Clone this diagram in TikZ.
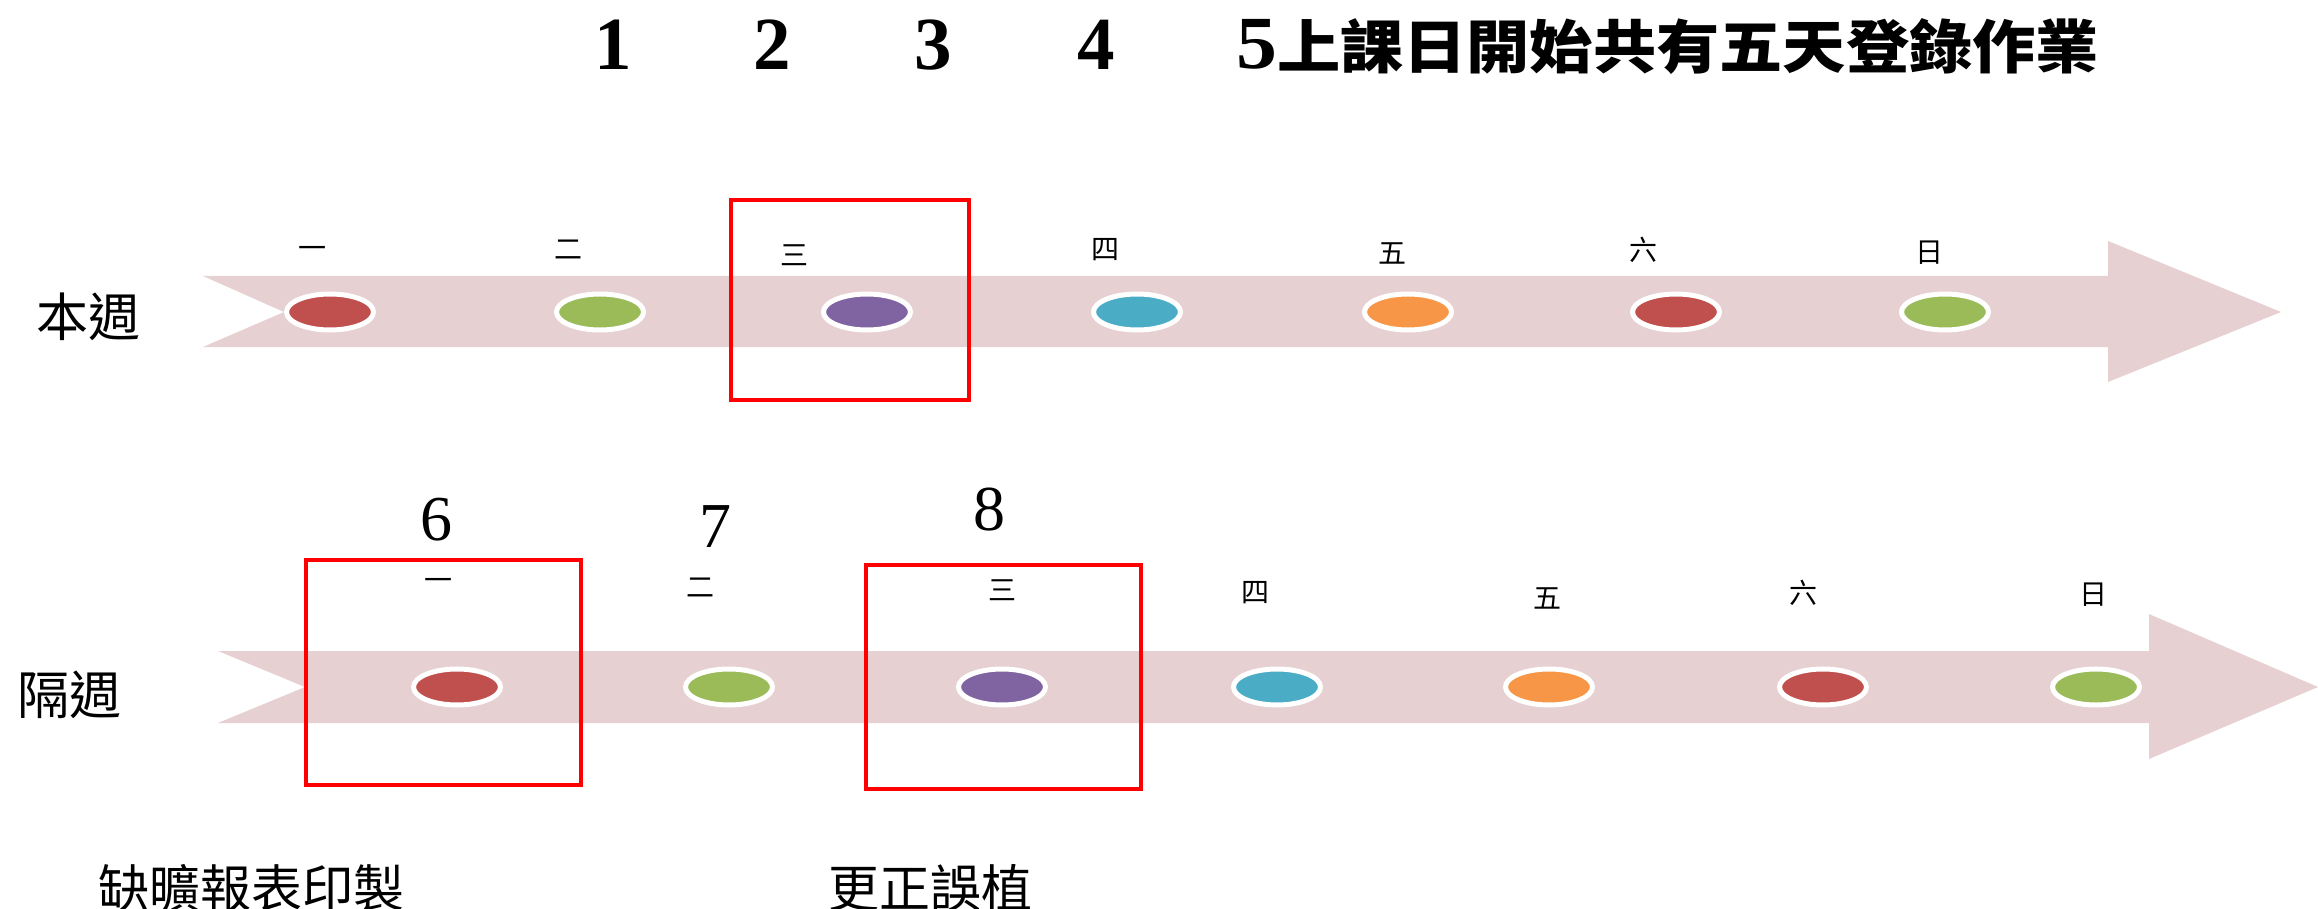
\documentclass[tikz,border=0pt]{standalone}
\usepackage{fontspec}
\setmainfont{Liberation Serif}
\newfontfamily\cjk{Noto Sans CJK TC}
\usetikzlibrary{shapes.geometric}
\definecolor{band}{RGB}{230,208,209}
\definecolor{dred}{RGB}{192,80,77}
\definecolor{dgreen}{RGB}{155,187,89}
\definecolor{dpurple}{RGB}{128,100,162}
\definecolor{dblue}{RGB}{75,172,198}
\definecolor{dorange}{RGB}{247,150,70}
\begin{document}
\begin{tikzpicture}[x=1pt,y=-1pt,
  dot/.style={ellipse,draw=white,line width=5pt,minimum width=87pt,minimum height=36pt,inner sep=0pt},
  day/.style={font=\cjk\fontsize{28}{30}\selectfont,inner sep=0pt},
  redbox/.style={draw=red,line width=4pt,inner sep=0pt},
  weeklbl/.style={font=\cjk\fontsize{52}{56}\selectfont,inner sep=0pt},
  numlbl/.style={font=\fontsize{64}{66}\selectfont,inner sep=0pt},
  toplbl/.style={font=\bfseries\fontsize{75}{78}\selectfont,inner sep=0pt},
  note/.style={font=\cjk\fontsize{51}{54}\selectfont,inner sep=0pt}]
\useasboundingbox (0,0) rectangle (2318,909);
% bands
\fill[band] (203,276) -- (2108,276) -- (2108,241) -- (2281,312) -- (2108,382) -- (2108,347) -- (203,347) -- (284,312) -- cycle;
\fill[band] (218,651) -- (2149,651) -- (2149,614) -- (2318,687) -- (2149,759) -- (2149,723) -- (218,723) -- (305,687) -- cycle;
% top row dots
\node[dot,fill=dred]    (a1) at (330,312) {};
\node[dot,fill=dgreen]  (a2) at (600,312) {};
\node[dot,fill=dpurple] (a3) at (867,312) {};
\node[dot,fill=dblue]   (a4) at (1137,312) {};
\node[dot,fill=dorange] (a5) at (1408,312) {};
\node[dot,fill=dred]    (a6) at (1676,312) {};
\node[dot,fill=dgreen]  (a7) at (1945,312) {};
% bottom row dots
\node[dot,fill=dred]    (b1) at (457,687) {};
\node[dot,fill=dgreen]  (b2) at (729,687) {};
\node[dot,fill=dpurple] (b3) at (1002,687) {};
\node[dot,fill=dblue]   (b4) at (1277,687) {};
\node[dot,fill=dorange] (b5) at (1549,687) {};
\node[dot,fill=dred]    (b6) at (1823,687) {};
\node[dot,fill=dgreen]  (b7) at (2096,687) {};
% red boxes
\node[redbox,minimum width=238pt,minimum height=200pt] (box3) at (850,300) {};
\node[redbox,minimum width=275pt,minimum height=225pt] (box6) at (443.5,672.5) {};
\node[redbox,minimum width=275pt,minimum height=224pt] (box8) at (1003.5,677) {};
% top day labels
\node[day] (ta1) at (312,252) {一};
\node[day] (ta2) at (568,250) {二};
\node[day] (ta3) at (794,255) {三};
\node[day] (ta4) at (1105,250) {四};
\node[day] (ta5) at (1392,253) {五};
\node[day] (ta6) at (1643,250) {六};
\node[day] (ta7) at (1929,253) {日};
% bottom day labels
\node[day] (tb1) at (438,584) {一};
\node[day] (tb2) at (700,588) {二};
\node[day] (tb3) at (1002,590) {三};
\node[day] (tb4) at (1255,593) {四};
\node[day] (tb5) at (1547,598) {五};
\node[day] (tb6) at (1803,593) {六};
\node[day] (tb7) at (2093,595) {日};
% week labels
\node[weeklbl] (w1) at (88,317) {本週};
\node[weeklbl] (w2) at (69,695) {隔週};
% numbers
\node[numlbl] (n6) at (436,520) {6};
\node[numlbl] (n7) at (715,527) {7};
\node[numlbl] (n8) at (989,510) {8};
% title
\node[toplbl] (t1) at (613,45) {1};
\node[toplbl] (t2) at (772,45) {2};
\node[toplbl] (t3) at (933,45) {3};
\node[toplbl] (t4) at (1096,45) {4};
\node[toplbl,anchor=west,xscale=1.09] (t5) at (1236,47) {5{\cjk\fontsize{58}{60}\selectfont 上課日開始共有五天登錄作業}};
% notes
\node[note] (m1) at (251,888) {缺曠報表印製};
\node[note] (m2) at (930,888) {更正誤植};
\end{tikzpicture}
\end{document}
